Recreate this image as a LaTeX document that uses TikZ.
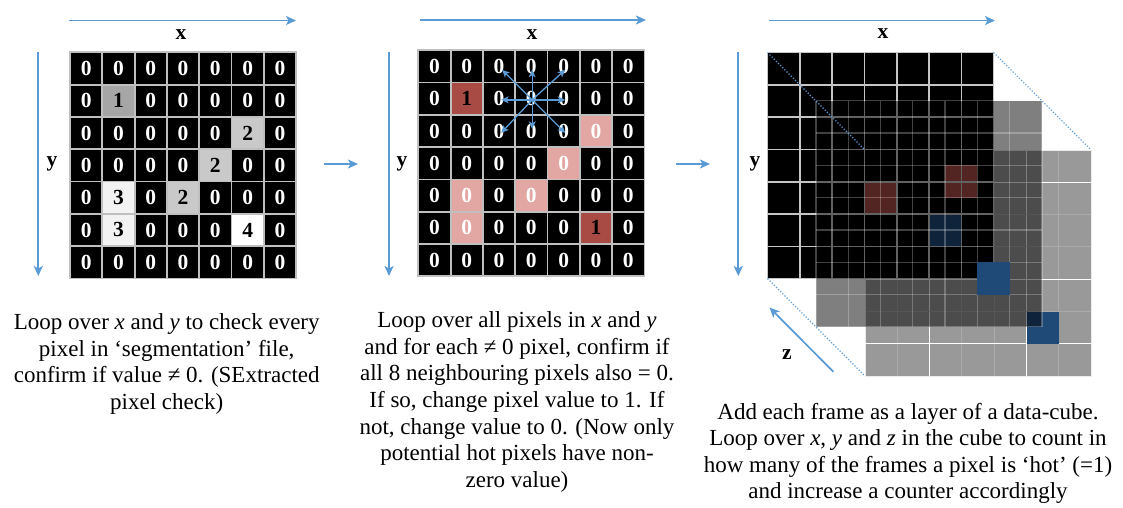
\documentclass[tikz,border=0pt]{standalone}
\usepackage{fontspec}
\setmainfont{Liberation Serif}
\usetikzlibrary{arrows.meta}
\definecolor{axisblue}{HTML}{5B9BD5}
\definecolor{gridgray}{HTML}{BFBFBF}
\definecolor{hotred}{HTML}{A84B45}
\definecolor{paleRed}{HTML}{E2A6A3}
\definecolor{grayA}{HTML}{A6A6A6}
\definecolor{grayB}{HTML}{C9C9C9}
\definecolor{grayC}{HTML}{F2F2F2}
\definecolor{pixblue}{HTML}{1F4A78}
\definecolor{cubeback}{HTML}{999999}
\definecolor{faintline}{HTML}{ABABAB}
\begin{document}
\begin{tikzpicture}[x=1pt,y=-1pt,
  cell/.style={draw=gridgray, line width=1.8pt, minimum width=32.3pt, minimum height=32.3pt,
    inner sep=0pt, font=\fontsize{21.5}{21.5}\selectfont\bfseries},
  cellK/.style={fill=black, text=white},
  cellGa/.style={fill=grayA, text=black},
  cellGb/.style={fill=grayB, text=black},
  cellGc/.style={fill=grayC, text=black},
  cellGd/.style={fill=white, text=black},
  cellHr/.style={fill=hotred, text=black},
  cellPk/.style={fill=paleRed, text=white},
  axis/.style={draw=axisblue, line width=1.7pt, -{Stealth[length=10pt,width=9pt,inset=2.5pt]}},
  nbr/.style={draw=axisblue, line width=1.3pt, -{Stealth[length=7.5pt,width=7pt,inset=2pt]}},
  axlabel/.style={font=\fontsize{21.5}{21.5}\selectfont\bfseries, inner sep=0pt},
  para/.style={font=\fontsize{23}{26.6}\selectfont, align=center, anchor=north, inner sep=0pt},
  dotline/.style={draw=axisblue, line width=1.2pt, dash pattern=on 1.2pt off 1.8pt}
]
\useasboundingbox (0,0) rectangle (1123,507);
\def\cs{32.3}
% ---------------- left grid
\foreach \row [count=\r from 0] in {
 {0/cellK,0/cellK,0/cellK,0/cellK,0/cellK,0/cellK,0/cellK},
 {0/cellK,1/cellGa,0/cellK,0/cellK,0/cellK,0/cellK,0/cellK},
 {0/cellK,0/cellK,0/cellK,0/cellK,0/cellK,2/cellGb,0/cellK},
 {0/cellK,0/cellK,0/cellK,0/cellK,2/cellGb,0/cellK,0/cellK},
 {0/cellK,3/cellGc,0/cellK,2/cellGb,0/cellK,0/cellK,0/cellK},
 {0/cellK,3/cellGc,0/cellK,0/cellK,0/cellK,4/cellGd,0/cellK},
 {0/cellK,0/cellK,0/cellK,0/cellK,0/cellK,0/cellK,0/cellK}}
{
  \foreach \v/\s [count=\c from 0] in \row {
    \node[cell,\s] (L-\r-\c) at ({70+\cs*(\c+0.5)},{52.3+\cs*(\r+0.5)}) {\v};
  }
}
% ---------------- middle grid
\foreach \row [count=\r from 0] in {
 {0/cellK,0/cellK,0/cellK,0/cellK,0/cellK,0/cellK,0/cellK},
 {0/cellK,1/cellHr,0/cellK,0/cellK,0/cellK,0/cellK,0/cellK},
 {0/cellK,0/cellK,0/cellK,0/cellK,0/cellK,0/cellPk,0/cellK},
 {0/cellK,0/cellK,0/cellK,0/cellK,0/cellPk,0/cellK,0/cellK},
 {0/cellK,0/cellPk,0/cellK,0/cellPk,0/cellK,0/cellK,0/cellK},
 {0/cellK,0/cellPk,0/cellK,0/cellK,0/cellK,1/cellHr,0/cellK},
 {0/cellK,0/cellK,0/cellK,0/cellK,0/cellK,0/cellK,0/cellK}}
{
  \foreach \v/\s [count=\c from 0] in \row {
    \node[cell,\s] (M-\r-\c) at ({418.3+\cs*(\c+0.5)},{50.2+\cs*(\r+0.5)}) {\v};
  }
}
% neighbour arrows
\coordinate (ctr) at ([shift={(0.8,1.2)}]M-1-3.center);
\foreach \dx/\dy [count=\i] in {0/-30, 0/29, -31/0, 33/0, -30/-30, 33/-30, -31/33, 33/33} {
  \coordinate (nb\i) at ([shift={(\dx,\dy)}]ctr);
  \draw[nbr] (ctr) -- (nb\i);
}
% ---------------- axes
\coordinate (Lxa) at (69,20.5);   \coordinate (Lxb) at (296,20.5);
\coordinate (Lya) at (38.3,51.5); \coordinate (Lyb) at (38.3,276);
\draw[axis] (Lxa) -- (Lxb); \draw[axis] (Lya) -- (Lyb);
\node[axlabel] (Lx) at (181,35) {x};
\node[axlabel] (Ly) at (52,164) {y};
\coordinate (Mxa) at (420,20);   \coordinate (Mxb) at (646,20);
\coordinate (Mya) at (389,51.5); \coordinate (Myb) at (389,276);
\draw[axis] (Mxa) -- (Mxb); \draw[axis] (Mya) -- (Myb);
\node[axlabel] (Mx) at (532,35) {x};
\node[axlabel] (My) at (402,164) {y};
\coordinate (Rxa) at (769.3,20.5); \coordinate (Rxb) at (995,20.5);
\coordinate (Rya) at (738.3,51.5); \coordinate (Ryb) at (738.3,276);
\draw[axis] (Rxa) -- (Rxb); \draw[axis] (Rya) -- (Ryb);
\node[axlabel] (Rx) at (883,34) {x};
\node[axlabel] (Ry) at (755,164) {y};
\coordinate (Rza) at (833.3,371.7); \coordinate (Rzb) at (769.5,307.5);
\draw[axis] (Rza) -- (Rzb);
\node[axlabel] (Rz) at (787,355) {z};
% between-panel arrows
\coordinate (s1a) at (324,164); \coordinate (s1b) at (358,164);
\coordinate (s2a) at (675.5,164); \coordinate (s2b) at (710,164);
\draw[axis, line width=1.5pt] (s1a) -- (s1b);
\draw[axis, line width=1.5pt] (s2a) -- (s2b);
% ---------------- data cube
\def\Ax{767.5}\def\Ay{52.5}
\def\Bx{815.9}\def\By{100.7}
\def\Cx{865}\def\Cy{150}
\def\W{226.1}
% back layer C
\fill[cubeback] (\Cx,\Cy) rectangle ++(\W,\W);
\foreach \k in {1,3,4,6} \draw[faintline, line width=1pt] ({\Cx+\k*\cs},\Cy) -- ++(0,\W);
\foreach \k in {2,5} \draw[white, line width=1.2pt] ({\Cx+\k*\cs},\Cy) -- ++(0,\W);
\foreach \k in {2,3,5} \draw[faintline, line width=1pt] (\Cx,{\Cy+\k*\cs}) -- ++(\W,0);
\foreach \k in {1,4,6} \draw[white, line width=1.2pt] (\Cx,{\Cy+\k*\cs}) -- ++(\W,0);
\draw[white!85!gray, line width=1pt] (\Cx,\Cy) rectangle ++(\W,\W);
\fill[pixblue] ({\Cx+5*\cs},{\Cy+5*\cs}) rectangle ++(\cs,\cs);
% front layer A
\fill[black] (\Ax,\Ay) rectangle ++(\W,\W);
\fill[pixblue] ({\Ax+5*\cs},{\Ay+5*\cs}) rectangle ++(\cs,\cs);
\fill[hotred] ({\Ax+3*\cs},{\Ay+4*\cs}) rectangle ++(\cs,\cs);
\fill[hotred] ({\Bx+4*\cs},{\By+2*\cs}) rectangle ++(\cs,\cs);
\foreach \k in {0,...,7} {
  \draw[gridgray!90!white, line width=1.6pt] ({\Ax+\k*\cs},\Ay) -- ++(0,\W);
  \draw[gridgray!90!white, line width=1.6pt] (\Ax,{\Ay+\k*\cs}) -- ++(\W,0);
}
% middle layer B (semi-transparent)
\fill[black, opacity=0.5] (\Bx,\By) rectangle ++(\W,\W);
\foreach \k in {0,...,7} {
  \draw[white, opacity=0.25, line width=1.3pt] ({\Bx+\k*\cs},\By) -- ++(0,\W);
  \draw[white, opacity=0.25, line width=1.3pt] (\Bx,{\By+\k*\cs}) -- ++(\W,0);
}
\fill[pixblue] ({\Bx+5*\cs},{\By+5*\cs}) rectangle ++(\cs,\cs);
% dotted perspective lines
\coordinate (Anw) at (\Ax,\Ay); \coordinate (Cnw) at (\Cx,\Cy);
\coordinate (Ane) at ({\Ax+\W},\Ay); \coordinate (Cne) at ({\Cx+\W},\Cy);
\coordinate (Asw) at (\Ax,{\Ay+\W}); \coordinate (Csw) at (\Cx,{\Cy+\W});
\draw[dotline] (Anw) -- (Cnw);
\draw[dotline] (Ane) -- (Cne);
\draw[dotline] (Asw) -- (Csw);
% ---------------- texts
\node[para] (t1) at (166.7,313.6) {Loop over \textit{x} and \textit{y} to check every\\pixel in ‘segmentation’ file,\\confirm if value ≠ 0. (SExtracted\\pixel check)};
\node[para] (t2) at (517,311.6) {Loop over all pixels in \textit{x} and \textit{y}\\and for each ≠ 0 pixel, confirm if\\all 8 neighbouring pixels also = 0.\\If so, change pixel value to 1. If\\not, change value to 0. (Now only\\potential hot pixels have non-\\zero value)};
\node[para] (t3) at (908,402.6) {Add each frame as a layer of a data-cube.\\Loop over \textit{x}, \textit{y} and \textit{z} in the cube to count in\\how many of the frames a pixel is ‘hot’ (=1)\\and increase a counter accordingly};
\end{tikzpicture}
\end{document}
